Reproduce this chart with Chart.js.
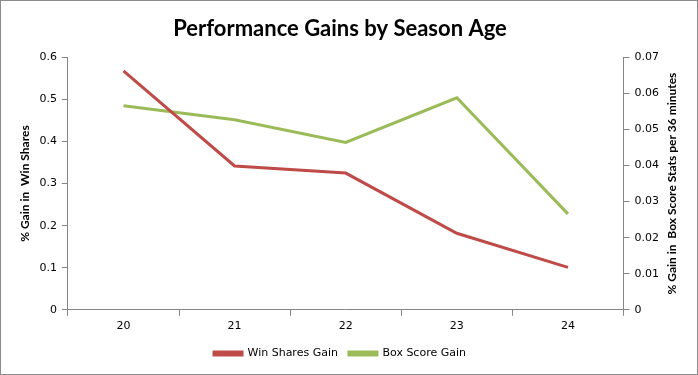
<!DOCTYPE html>
<html>
<head>
<meta charset="utf-8">
<script src="https://cdn.jsdelivr.net/npm/chart.js@4"></script>
<style>
  html, body { margin: 0; padding: 0; background: #fff; }
  #wrap { position: relative; width: 696px; height: 373px; border: 1px solid #8c8c8c; }
</style>
</head>
<body>
<div id="wrap"><canvas id="graficaGains" width="696" height="373"></canvas></div>
<script>
const ages = ['20', '21', '22', '23', '24'];
const winSharesGain = [0.568, 0.342, 0.325, 0.182, 0.101];
const boxScoreGain = [0.0566, 0.0527, 0.0464, 0.0588, 0.0266];

const rightTitleText = '% Gain in  Box Score Stats per 36 minutes';

// título del eje derecho, leído de abajo hacia arriba como el izquierdo
const rightTitle = {
    id: 'rightTitle',
    afterDraw(chart) {
        const ctx = chart.ctx;
        const area = chart.chartArea;
        ctx.save();
        ctx.translate(chart.scales.y1.right + 8, (area.top + area.bottom) / 2);
        ctx.rotate(-Math.PI / 2);
        ctx.font = 'bold 12px Lato';
        ctx.fillStyle = '#000';
        ctx.textAlign = 'center';
        ctx.textBaseline = 'middle';
        ctx.fillText(rightTitleText, 0, 0);
        ctx.restore();
    }
};

document.addEventListener('DOMContentLoaded', function () {
    const axisGrey = '#868686';
    const tickFont = { family: 'DejaVu Sans', size: 11 };

    new Chart(document.getElementById('graficaGains').getContext('2d'), {
        type: 'line',
        data: {
            labels: ages,
            datasets: [{
                label: 'Win Shares Gain',
                data: winSharesGain,
                borderColor: '#BE4B48',
                backgroundColor: '#BE4B48',
                borderWidth: 3,
                pointRadius: 0,
                tension: 0,
                yAxisID: 'y'
            }, {
                label: 'Box Score Gain',
                data: boxScoreGain,
                borderColor: '#9BBB59',
                backgroundColor: '#9BBB59',
                borderWidth: 3,
                pointRadius: 0,
                tension: 0,
                yAxisID: 'y1'
            }]
        },
        options: {
            responsive: false,
            animation: false,
            layout: { padding: { left: 15, right: 33, top: 5, bottom: 5 } },
            plugins: {
                title: {
                    display: true,
                    text: 'Performance Gains by Season Age',
                    color: '#000',
                    font: { family: 'Lato', size: 22, weight: 'bold' },
                    padding: { top: 10, bottom: 15 }
                },
                legend: {
                    position: 'bottom',
                    labels: {
                        boxWidth: 28,
                        boxHeight: 3,
                        color: '#000',
                        font: tickFont,
                        padding: 11
                    }
                },
                tooltip: { enabled: false }
            },
            scales: {
                x: {
                    offset: true,
                    grid: { display: true, offset: true, drawOnChartArea: false, drawTicks: true, tickLength: 6, color: axisGrey },
                    border: { color: axisGrey, width: 1 },
                    ticks: { color: '#000', font: tickFont, padding: 4 }
                },
                y: {
                    position: 'left',
                    min: 0,
                    max: 0.6,
                    grid: { drawOnChartArea: false, tickLength: 6, color: axisGrey },
                    border: { color: axisGrey },
                    ticks: { stepSize: 0.1, color: '#000', font: tickFont, padding: 5,
                             callback: v => +v.toFixed(1) },
                    title: { display: true, text: '% Gain in  Win Shares', color: '#000',
                             font: { family: 'Lato', size: 12, weight: 'bold' }, padding: 2 }
                },
                y1: {
                    position: 'right',
                    min: 0,
                    max: 0.07,
                    grid: { drawOnChartArea: false, tickLength: 6, color: axisGrey },
                    border: { color: axisGrey },
                    ticks: { stepSize: 0.01, color: '#000', font: tickFont, padding: 5,
                             callback: v => +v.toFixed(2) }
                }
            }
        },
        plugins: [rightTitle]
    });
});
</script>
</body>
</html>
